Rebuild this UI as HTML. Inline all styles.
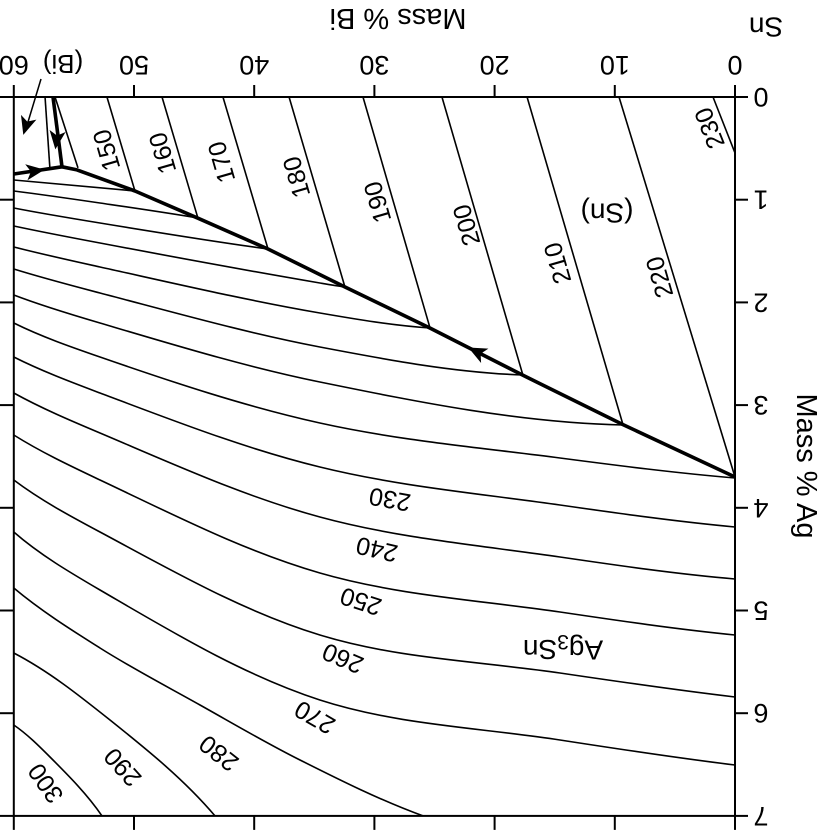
<!DOCTYPE html>
<html><head><meta charset="utf-8"><style>
html,body{margin:0;padding:0;background:#fff}
svg{display:block}
text{font-family:"Liberation Sans",Arial,Helvetica,sans-serif;fill:#000}
</style></head><body>
<svg id="chart" width="833" height="832" viewBox="0 0 833 832" xmlns="http://www.w3.org/2000/svg" font-family="Liberation Sans, Arial, sans-serif">
<rect width="833" height="832" fill="#fff"/>
<g id="curves" fill="none" stroke="#000" stroke-width="1.6"></g>
<g id="bold" fill="none" stroke="#000" stroke-width="3.6" stroke-linejoin="round"></g>
<g id="axes" stroke="#000" stroke-width="2" fill="none"></g>
<g id="ticklabels" font-size="27" text-anchor="middle"></g>
<g font-size="25" text-anchor="middle" dominant-baseline="central">
  <text x="398" y="18" font-size="29" transform="rotate(180 398 18)">Mass % Bi</text>
  <text x="766" y="27" font-size="28" transform="rotate(180 766 27)">Sn</text>
  <text x="806" y="466" font-size="29" transform="rotate(90 806 466)">Mass % Ag</text>
  <text x="63" y="64" font-size="26" transform="rotate(180 63 64)">(Bi)</text>
  <text x="607" y="213" font-size="28" transform="rotate(180 607 213)">(Sn)</text>
  <text x="563" y="650" font-size="28" transform="rotate(180 563 650)">Ag<tspan font-size="21" dy="8">3</tspan><tspan dy="-8">Sn</tspan></text>
  <text x="107" y="150" transform="rotate(-106 107 150)">150</text>
  <text x="163" y="153" transform="rotate(-106 163 153)">160</text>
  <text x="222" y="162" transform="rotate(-106 222 162)">170</text>
  <text x="297" y="177" transform="rotate(-106 297 177)">180</text>
  <text x="378" y="202" transform="rotate(-106 378 202)">190</text>
  <text x="467" y="225" transform="rotate(-106 467 225)">200</text>
  <text x="558" y="263" transform="rotate(-106 558 263)">210</text>
  <text x="660" y="277" transform="rotate(-106 660 277)">220</text>
  <text x="710" y="128" transform="rotate(-112 710 128)">230</text>
  <text x="390" y="499" transform="rotate(190 390 499)">230</text>
  <text x="377" y="549" transform="rotate(193 377 549)">240</text>
  <text x="361" y="601" transform="rotate(198 361 601)">250</text>
  <text x="343" y="658" transform="rotate(203 343 658)">260</text>
  <text x="315" y="717" transform="rotate(210 315 717)">270</text>
  <text x="219" y="753" transform="rotate(218 219 753)">280</text>
  <text x="123" y="767" transform="rotate(228 123 767)">290</text>
  <text x="46" y="783" transform="rotate(235 46 783)">300</text>
</g>
<g id="arrows" fill="#000" stroke="#000"></g>
</svg>
<script>
// axis domain ticks
const biTicks = [0, 10, 20, 30, 40, 50, 60];
const agTicks = [0, 1, 2, 3, 4, 5, 6, 7];
// Sn-primary straight isotherms
const snTemps = [130, 140, 150, 160, 170, 180, 190, 200, 210, 220, 230];
const snTopBi = [57.4, 56.57, 52.25, 47.67, 42.6, 37.1, 30.95, 24.38, 17.3, 9.65, 1.83];
const snEndBi = [57.0, 54.66, 49.92, 44.68, 38.85, 32.45, 25.37, 17.64, 9.32, 0, 0];
const snEndAg = [0.69, 0.69, 0.915, 1.18, 1.48, 1.85, 2.25, 2.71, 3.19, 3.70, 0.545];
// Ag3Sn / lower isotherms (bi, ag)
const lowTemps = [150,160,170,180,190,200,210,220,230,240,250,260,270,280,290,300];
const lowBi = [
 [60,49.92],
 [60,52.83,44.68],
 [60,52.83,38.85],
 [60,52.83,34.53,32.45],
 [60,52.83,34.53,25.37],
 [60,52.83,34.53,17.64],
 [60,52.83,34.53,9.32],
 [60,52.83,34.53,14.56,0],
 [60,52.83,34.53,14.56,0],
 [60,52.83,34.53,14.56,0],
 [60,52.83,34.53,14.56,0],
 [60,52.83,34.53,14.56,0],
 [60,52.83,34.53,14.56,0],
 [60,52.83,44.51,36.19,25.96],
 [60,52.0,43.26],
 [60,56.99,52.66]
];
const lowAg = [
 [0.808,0.915],
 [0.915,1.032,1.178],
 [1.081,1.227,1.48],
 [1.256,1.422,1.811,1.85],
 [1.461,1.655,2.103,2.249],
 [1.675,1.908,2.434,2.707],
 [1.928,2.201,2.775,3.194],
 [2.201,2.532,3.174,3.515,3.71],
 [2.532,2.882,3.603,3.973,4.187],
 [2.882,3.272,4.090,4.479,4.693],
 [3.291,3.729,4.635,5.015,5.239],
 [3.729,4.236,5.239,5.609,5.842],
 [4.236,4.800,5.871,6.261,6.504],
 [4.781,5.365,5.920,6.456,7.0],
 [5.414,6.066,7.0],
 [6.115,6.426,7.0]
];
// bold univariant valleys
const valleyBi = [0, 9.32, 17.64, 25.37, 32.45, 38.85, 44.68, 49.92, 54.74, 55.99];
const valleyAg = [3.70, 3.19, 2.71, 2.25, 1.85, 1.48, 1.18, 0.915, 0.71, 0.68];
const bismuthBranchBi = [55.99, 60];
const bismuthBranchAg = [0.68, 0.75];
const topBranchBi = [55.99, 56.74];
const topBranchAg = [0.68, 0];

const NS = 'http://www.w3.org/2000/svg';
function X(bi){ return 735 - bi * 12.02; }
function Y(ag){ return 97 + ag * 102.7; }
function mk(tag, parent, attrs){
  const e = document.createElementNS(NS, tag);
  for (const k in attrs) e.setAttribute(k, attrs[k]);
  parent.appendChild(e);
  return e;
}
function smoothPath(bs, as){
  const p = bs.map((b,i)=>[X(b), Y(as[i])]);
  const n = p.length;
  let d = 'M' + p[0][0].toFixed(1) + ' ' + p[0][1].toFixed(1);
  if (n === 2) return d + ' L' + p[1][0].toFixed(1) + ' ' + p[1][1].toFixed(1);
  const dist = (a,b)=>Math.hypot(b[0]-a[0], b[1]-a[1]);
  // unit tangents
  const tan = p.map((pt,i)=>{
    let v;
    if (i === 0) {
      // reflect for natural end: use 2*(p1-p0) - (p2-p1) direction blend
      const a=[p[1][0]-p[0][0], p[1][1]-p[0][1]], b=[p[2][0]-p[1][0], p[2][1]-p[1][1]];
      const la=Math.hypot(...a), lb=Math.hypot(...b);
      v=[2*a[0]/la - b[0]/lb, 2*a[1]/la - b[1]/lb];
    } else if (i === n-1) {
      const a=[p[n-1][0]-p[n-2][0], p[n-1][1]-p[n-2][1]], b=[p[n-2][0]-p[n-3][0], p[n-2][1]-p[n-3][1]];
      const la=Math.hypot(...a), lb=Math.hypot(...b);
      v=[2*a[0]/la - b[0]/lb, 2*a[1]/la - b[1]/lb];
    } else {
      const a=[p[i][0]-p[i-1][0], p[i][1]-p[i-1][1]], b=[p[i+1][0]-p[i][0], p[i+1][1]-p[i][1]];
      const la=Math.hypot(...a), lb=Math.hypot(...b);
      v=[a[0]/la + b[0]/lb, a[1]/la + b[1]/lb];
    }
    const l = Math.hypot(...v);
    return [v[0]/l, v[1]/l];
  });
  for (let i = 0; i < n-1; i++){
    const L = dist(p[i], p[i+1]) / 3;
    const c1 = [p[i][0] + tan[i][0]*L, p[i][1] + tan[i][1]*L];
    const c2 = [p[i+1][0] - tan[i+1][0]*L, p[i+1][1] - tan[i+1][1]*L];
    d += ' C' + c1.map(v=>v.toFixed(1)).join(' ') + ' ' + c2.map(v=>v.toFixed(1)).join(' ') + ' ' + p[i+1].map(v=>v.toFixed(1)).join(' ');
  }
  return d;
}
function linePath(bs, as){
  return bs.map((b,i)=>(i?'L':'M') + X(b).toFixed(1) + ' ' + Y(as[i]).toFixed(1)).join(' ');
}

const curves = document.getElementById('curves');
snTemps.forEach((t,i)=>{
  const l = mk('line', curves, {x1: X(snTopBi[i]), y1: Y(0), x2: X(snEndBi[i]), y2: Y(snEndAg[i])});
  
  
});
lowTemps.forEach((t,i)=>{
  const p = mk('path', curves, {d: smoothPath(lowBi[i], lowAg[i])});
  
  
});

const bold = document.getElementById('bold');
const v1 = mk('path', bold, {d: linePath(valleyBi, valleyAg)});


const v2 = mk('path', bold, {d: linePath(bismuthBranchBi, bismuthBranchAg)});


const v3 = mk('path', bold, {d: linePath(topBranchBi, topBranchAg)});



const axes = document.getElementById('axes');
const fr = mk('rect', axes, {x: X(60), y: Y(0), width: X(0)-X(60), height: Y(7)-Y(0)});


const tl = document.getElementById('ticklabels');
biTicks.forEach(b=>{
  const t1 = mk('line', axes, {x1: X(b), y1: Y(0), x2: X(b), y2: Y(0)-12});
  
  
  const t2 = mk('line', axes, {x1: X(b), y1: Y(7), x2: X(b), y2: Y(7)+14});
  
  
  const tx = mk('text', tl, {x: X(b), y: 65, 'dominant-baseline': 'central', transform: 'rotate(180 ' + X(b) + ' 65)'});
  tx.textContent = b;
  
  
});
agTicks.forEach(a=>{
  const t1 = mk('line', axes, {x1: X(0), y1: Y(a), x2: X(0)+13, y2: Y(a)});
  
  
  const t2 = mk('line', axes, {x1: X(60), y1: Y(a), x2: X(60)-14, y2: Y(a)});
  
  
  const tx = mk('text', tl, {x: 761, y: Y(a), 'dominant-baseline': 'central', transform: 'rotate(180 761 ' + Y(a) + ')'});
  tx.textContent = a;
  
  
});

const arrows = document.getElementById('arrows');
function arrowHead(x, y, ang, name){
  const p = mk('path', arrows, {d: 'M8 0 L-8 -7 L-4 0 L-8 7 Z', transform: 'translate(' + x + ' ' + y + ') rotate(' + ang + ')', 'stroke-width': '1'});
  
  
}
arrowHead(X(21.5), Y(2.48), 207, 'valley-arrow-sn-ag3sn');
arrowHead(X(58.2), Y(0.72), -8, 'valley-arrow-bi-ag3sn');
arrowHead(X(56.45), Y(0.42), 97, 'valley-arrow-bi-sn');
const pl = mk('line', arrows, {x1: 41, y1: 79, x2: 28, y2: 122, 'stroke-width': '1.5'});


arrowHead(26, 126, 107, 'bi-pointer-head');
</script>
</body></html>
